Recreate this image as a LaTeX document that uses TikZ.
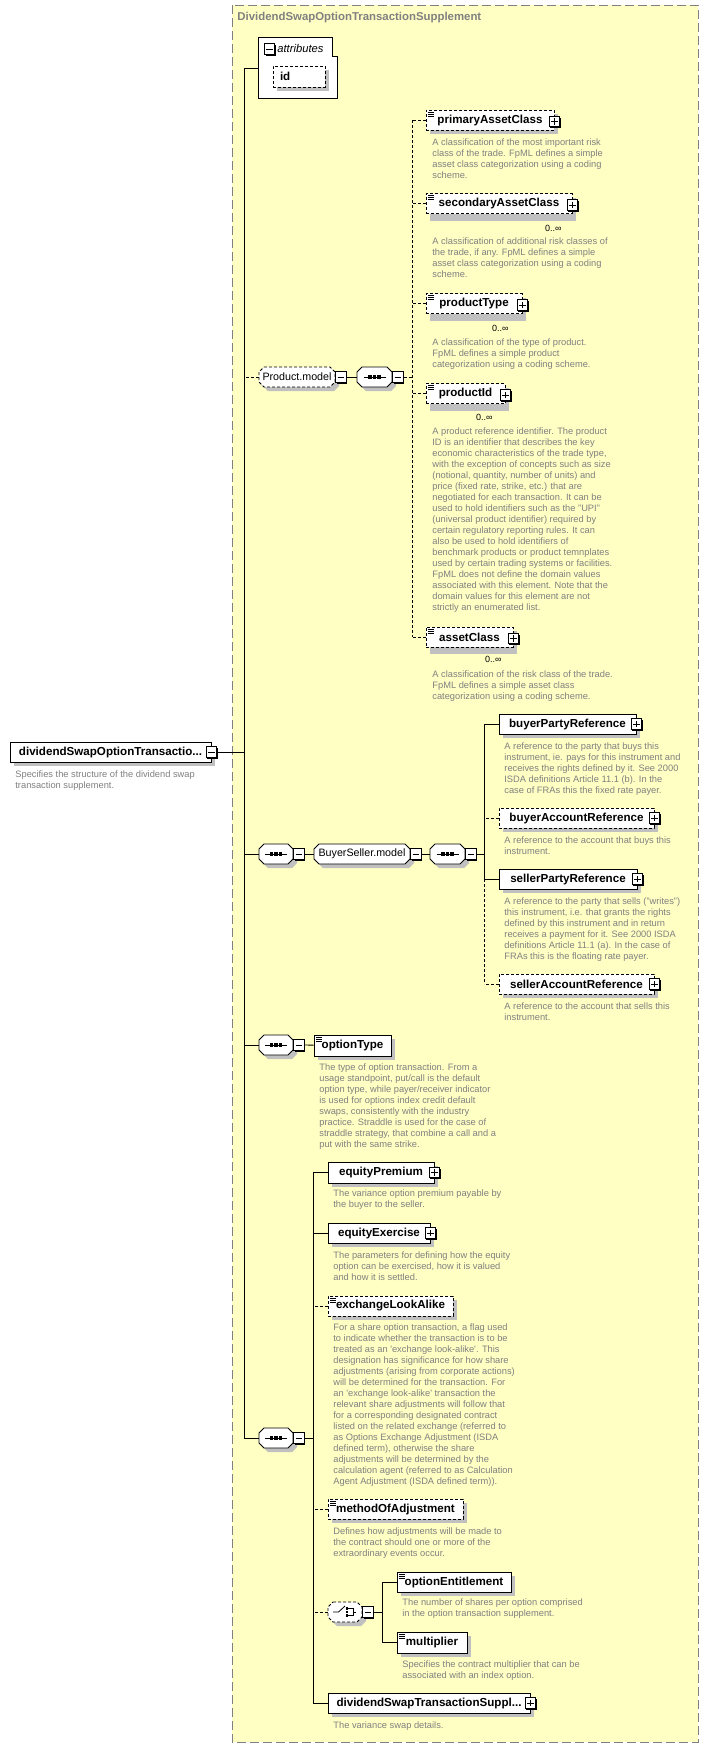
\documentclass[tikz,border=0pt]{standalone}
\usepackage{fontspec}
\setmainfont{Liberation Sans}
\usetikzlibrary{positioning}
\usetikzlibrary{shadows}

\definecolor{groupfill}{RGB}{255,255,196}
\definecolor{framegray}{RGB}{128,128,128}
\definecolor{descgray}{RGB}{128,128,128}
\definecolor{shadowgray}{RGB}{192,192,192}

% octagon (model group / compositor) with its shadow: [style]{cx}{cy}{width}
\newcommand{\octa}[4][]{%
  \fill[shadowgray, shift={({#2+4},{#3+4})}]
    ({-#4/2+5},-10) -- ({#4/2-5},-10) -- ({#4/2},-5) -- ({#4/2},5) -- ({#4/2-5},10)
    -- ({-#4/2+5},10) -- ({-#4/2},5) -- ({-#4/2},-5) -- cycle;
  \draw[fill=white, shift={(#2,#3)}, #1]
    ({-#4/2+5},-10) -- ({#4/2-5},-10) -- ({#4/2},-5) -- ({#4/2},5) -- ({#4/2-5},10)
    -- ({-#4/2+5},10) -- ({-#4/2},5) -- ({-#4/2},-5) -- cycle;}

\tikzset{
  optline/.style={dash pattern=on 3pt off 2pt},
  elem/.style={draw, fill=white, line width=0.8pt, inner sep=0pt, minimum height=20pt,
    font=\bfseries\fontsize{11.6}{13}\selectfont,
    drop shadow={shadow xshift=4pt, shadow yshift=-4pt, fill=shadowgray, opacity=1}},
  optelem/.style={elem, optline},
  multi/.style={drop shadow={shadow xshift=4pt, shadow yshift=-7pt, fill=shadowgray, opacity=1}},
  docicon/.style={path picture={
    \foreach \dy in {2,4,6}
      \draw[line width=0.7pt, solid] ([shift={(2pt,-\dy pt)}]path picture bounding box.north west) -- ++(6,0);}},
  model/.style={inner sep=0pt, minimum height=20pt, font=\fontsize{10.7}{12}\selectfont},
  seqicon/.style={path picture={
    \begin{scope}[shift={(path picture bounding box.center)}]
      \draw[line width=1pt] (-11,0) -- (11,0);
      \foreach \dx in {-4.5,0,4.5} \fill (\dx-1.6,-1.6) rectangle (\dx+1.6,1.6);
    \end{scope}}},
  seq/.style={model, minimum width=34pt, seqicon},
  choiceicon/.style={path picture={
    \begin{scope}[shift={(path picture bounding box.center)}]
      \draw (-12,0) -- (-6.5,0) -- (0,-6);
      \foreach \dy in {-3.7,0,3.7} \fill (0.8,\dy-1.3) rectangle (3.4,\dy+1.3);
      \draw (3.4,-3.7) -- (8,-3.7) -- (8,3.7) -- (3.4,3.7);
      \draw (8,0) -- (11,0);
    \end{scope}}},
  xbox/.style={draw, fill=white, line width=0.8pt, minimum size=10.5pt, inner sep=0pt,
    drop shadow={shadow xshift=1.3pt, shadow yshift=-1.3pt, fill=black, opacity=1}},
  minusbox/.style={xbox, path picture={
    \draw ([xshift=2pt]path picture bounding box.west) -- ([xshift=-2pt]path picture bounding box.east);}},
  plusbox/.style={xbox, path picture={
    \draw ([xshift=2pt]path picture bounding box.west) -- ([xshift=-2pt]path picture bounding box.east);
    \draw ([yshift=-2pt]path picture bounding box.north) -- ([yshift=2pt]path picture bounding box.south);}},
  desc/.style={anchor=north west, inner sep=0pt, align=left, text=descgray,
    font=\fontsize{9.3}{11}\selectfont},
  mult/.style={inner sep=0pt, font=\fontsize{9}{10}\selectfont},
  title/.style={anchor=west, inner sep=0pt, text=framegray, font=\bfseries\fontsize{11.4}{13}\selectfont}
}

\begin{document}
\begin{tikzpicture}[x=1pt, y=-1pt, line width=0.8pt]
\useasboundingbox (0,0) rectangle (709,1748);

% group frame
\draw[framegray, fill=groupfill, line width=1pt, dash pattern=on 9pt off 4pt] (232,5) rectangle (698,1742);
\node[title] (grp) at (237,18) {DividendSwapOptionTransactionSupplement};

% root element
\node[elem, minimum width=201pt] (root) at (110.5,752) {dividendSwapOptionTransactio...};
\node[minusbox] (rootx) at (root.east) {};
\node[desc] (root-d) at (15,770.5) {Specifies the structure of the dividend swap\\transaction supplement.};

% trunk
\coordinate (t1) at (244,68);
\coordinate (t2) at (244,1438);
\draw (t1) -- (t2);
\draw (rootx.east) -- (rootx.east -| t1);

% attributes
\node[minimum width=78pt, minimum height=60pt, inner sep=0pt] (attr) at (298,68) {};
\draw[fill=white] (attr.north west) -- ([xshift=-5pt]attr.north east) -- ++(0,19) -- ++(5,0)
  -- (attr.south east) -- (attr.south west) -- cycle;
\node[minusbox] (attrx) at (269.5,49) {};
\node[anchor=west, inner sep=0pt, font=\itshape\fontsize{11.2}{13}\selectfont] (attr-t) at (277,48) {attributes};
\node[optelem, minimum width=52pt, minimum height=21pt, text width=38pt, align=left] (id) at (299,76.5) {id};
\draw (attr.west) -- (attr.west -| t1);

% Product.model
\octa[optline]{297}{377}{76}
\node[model, minimum width=76pt] (pm) at (297,377) {Product.model};
\node[minusbox] (pmx) at ([xshift=5.5pt]pm.east) {};
\octa{374.5}{377}{35}
\node[seq, minimum width=35pt] (pseq) at (374.5,377) {};
\node[minusbox] (pseqx) at ([xshift=5.5pt]pseq.east) {};
\coordinate (pbus) at (412,120);
\draw[optline] (pm.west) -- (pm.west -| t1);
\draw (pmx) -- (pseq);
\draw[optline] (pseqx.east) -- (pseqx.east -| pbus);

\node[optelem, docicon, minimum width=128pt] (pac) at (490,120) {primaryAssetClass};
\node[plusbox] (pacx) at ([yshift=-1.5pt]pac.east) {};
\node[desc] (pac-d) at (432,138.5) {A classification of the most important risk\\class of the trade. FpML defines a simple\\asset class categorization using a coding\\scheme.};

\node[optelem, multi, docicon, minimum width=146pt] (sac) at (499,203.5) {secondaryAssetClass};
\node[plusbox] (sacx) at ([yshift=-1.5pt]sac.east) {};
\node[mult] (sac-m) at ([shift={(-19pt,-14pt)}]sac.south east) {0..∞};
\node[desc] (sac-d) at (432,237.5) {A classification of additional risk classes of\\the trade, if any. FpML defines a simple\\asset class categorization using a coding\\scheme.};

\node[optelem, multi, docicon, minimum width=96pt] (pt) at (474,303.5) {productType};
\node[plusbox] (ptx) at ([yshift=-1.5pt]pt.east) {};
\node[mult] (pt-m) at ([shift={(-22pt,-14pt)}]pt.south east) {0..∞};
\node[desc] (pt-d) at (432,338.5) {A classification of the type of product.\\FpML defines a simple product\\categorization using a coding scheme.};

\node[optelem, multi, docicon, minimum width=79pt] (pid) at (465.5,393.5) {productId};
\node[plusbox] (pidx) at ([yshift=-1.5pt]pid.east) {};
\node[mult] (pid-m) at ([shift={(-21pt,-13pt)}]pid.south east) {0..∞};
\node[desc] (pid-d) at (432,427.5) {A product reference identifier. The product\\ID is an identifier that describes the key\\economic characteristics of the trade type,\\with the exception of concepts such as size\\(notional, quantity, number of units) and\\price (fixed rate, strike, etc.) that are\\negotiated for each transaction. It can be\\used to hold identifiers such as the "UPI"\\(universal product identifier) required by\\certain regulatory reporting rules. It can\\also be used to hold identifiers of\\benchmark products or product temnplates\\used by certain trading systems or facilities.\\FpML does not define the domain values\\associated with this element. Note that the\\domain values for this element are not\\strictly an enumerated list.};

\node[optelem, multi, docicon, minimum width=87pt] (ac) at (469.5,637) {assetClass};
\node[plusbox] (acx) at ([yshift=-1.5pt]ac.east) {};
\node[mult] (ac-m) at ([shift={(-20pt,-12pt)}]ac.south east) {0..∞};
\node[desc] (ac-d) at (432,670.5) {A classification of the risk class of the trade.\\FpML defines a simple asset class\\categorization using a coding scheme.};

\draw[optline] (pac.west -| pbus) -- (ac.west -| pbus);
\foreach \n in {pac,sac,pt,pid,ac}
  \draw[optline] (\n.west) -- (\n.west -| pbus);

% BuyerSeller.model
\octa{276}{854}{34}
\node[seq] (bseq1) at (276,854) {};
\node[minusbox] (bseq1x) at ([xshift=5.5pt]bseq1.east) {};
\octa{362}{854}{96}
\node[model, minimum width=96pt] (bsm) at (362,854) {BuyerSeller.model};
\node[minusbox] (bsmx) at ([xshift=5.5pt]bsm.east) {};
\octa{447.5}{854}{35}
\node[seq, minimum width=35pt] (bseq2) at (447.5,854) {};
\node[minusbox] (bseq2x) at ([xshift=5.5pt]bseq2.east) {};
\coordinate (bbus) at (484,724);
\draw (bseq1.west) -- (bseq1.west -| t1);
\draw (bseq1x) -- (bsm);
\draw (bsmx) -- (bseq2);
\draw (bseq2x.east) -- (bseq2x.east -| bbus);

\node[elem, minimum width=137pt] (bpr) at (567.5,724) {buyerPartyReference};
\node[plusbox] (bprx) at (bpr.east) {};
\node[desc] (bpr-d) at (504,742.5) {A reference to the party that buys this\\instrument, ie. pays for this instrument and\\receives the rights defined by it. See 2000\\ISDA definitions Article 11.1 (b). In the\\case of FRAs this the fixed rate payer.};

\node[optelem, minimum width=155pt] (bar) at (576.5,818) {buyerAccountReference};
\node[plusbox] (barx) at (bar.east) {};
\node[desc] (bar-d) at (504,836.5) {A reference to the account that buys this\\instrument.};

\node[elem, minimum width=138pt] (spr) at (568,879) {sellerPartyReference};
\node[plusbox] (sprx) at (spr.east) {};
\node[desc] (spr-d) at (504,897.5) {A reference to the party that sells ("writes")\\this instrument, i.e. that grants the rights\\defined by this instrument and in return\\receives a payment for it. See 2000 ISDA\\definitions Article 11.1 (a). In the case of\\FRAs this is the floating rate payer.};

\node[optelem, minimum width=155pt] (sar) at (576.5,984) {sellerAccountReference};
\node[plusbox] (sarx) at (sar.east) {};
\node[desc] (sar-d) at (504,1002.5) {A reference to the account that sells this\\instrument.};

\draw (bpr.west -| bbus) -- (spr.west -| bbus);
\draw[optline] (spr.west -| bbus) -- (sar.west -| bbus);
\draw (bpr.west) -- (bpr.west -| bbus);
\draw[optline] (bar.west) -- (bar.west -| bbus);
\draw (spr.west) -- (spr.west -| bbus);
\draw[optline] (sar.west) -- (sar.west -| bbus);

% optionType
\octa{276}{1045}{34}
\node[seq] (oseq) at (276,1045) {};
\node[minusbox] (oseqx) at ([xshift=5.5pt]oseq.east) {};
\node[elem, docicon, minimum width=77pt, minimum height=21pt] (ot) at (352.5,1045.5) {optionType};
\node[desc] (ot-d) at (319,1063.5) {The type of option transaction. From a\\usage standpoint, put/call is the default\\option type, while payer/receiver indicator\\is used for options index credit default\\swaps, consistently with the industry\\practice. Straddle is used for the case of\\straddle strategy, that combine a call and a\\put with the same strike.};
\draw (oseq.west) -- (oseq.west -| t1);
\draw (oseqx) -- (ot);

% option sequence
\octa{276}{1438}{34}
\node[seq] (lseq) at (276,1438) {};
\node[minusbox] (lseqx) at ([xshift=5.5pt]lseq.east) {};
\coordinate (lbus) at (313,1172.5);
\draw (lseq.west) -- (lseq.west -| t1);
\draw (lseqx.east) -- (lseqx.east -| lbus);

\node[elem, minimum width=106pt, minimum height=21pt] (ep) at (381,1172.5) {equityPremium};
\node[plusbox] (epx) at (ep.east) {};
\node[desc] (ep-d) at (333,1189.5) {The variance option premium payable by\\the buyer to the seller.};

\node[elem, minimum width=102pt] (ee) at (379,1233) {equityExercise};
\node[plusbox] (eex) at (ee.east) {};
\node[desc] (ee-d) at (333,1251.5) {The parameters for defining how the equity\\option can be exercised, how it is valued\\and how it is settled.};

\node[optelem, docicon, minimum width=125pt] (ela) at (390.5,1306) {exchangeLookAlike};
\node[desc] (ela-d) at (333,1323.5) {For a share option transaction, a flag used\\to indicate whether the transaction is to be\\treated as an \textquotesingle exchange look-alike\textquotesingle. This\\designation has significance for how share\\adjustments (arising from corporate actions)\\will be determined for the transaction. For\\an \textquotesingle exchange look-alike\textquotesingle\ transaction the\\relevant share adjustments will follow that\\for a corresponding designated contract\\listed on the related exchange (referred to\\as Options Exchange Adjustment (ISDA\\defined term), otherwise the share\\adjustments will be determined by the\\calculation agent (referred to as Calculation\\Agent Adjustment (ISDA defined term)).};

\node[optelem, docicon, minimum width=135pt] (moa) at (395.5,1509) {methodOfAdjustment};
\node[desc] (moa-d) at (333,1527.5) {Defines how adjustments will be made to\\the contract should one or more of the\\extraordinary events occur.};

% choice
\octa[optline]{345}{1612}{34}
\node[model, minimum width=34pt, choiceicon] (ch) at (345,1612) {};
\node[minusbox] (chx) at ([xshift=5.5pt]ch.east) {};
\coordinate (cbus) at (382,1582);
\draw[optline] (ch.west) -- (ch.west -| lbus);
\draw (chx.east) -- (chx.east -| cbus);

\node[elem, docicon, minimum width=114pt] (oe) at (454,1582) {optionEntitlement};
\node[desc] (oe-d) at (402,1598.5) {The number of shares per option comprised\\in the option transaction supplement.};

\node[elem, docicon, minimum width=70pt, minimum height=21pt] (mul) at (432,1642.5) {multiplier};
\node[desc] (mul-d) at (402,1660.5) {Specifies the contract multiplier that can be\\associated with an index option.};

\draw (oe.west -| cbus) -- (mul.west -| cbus);
\draw (oe.west) -- (oe.west -| cbus);
\draw (mul.west) -- (mul.west -| cbus);

\node[elem, minimum width=202pt] (dsts) at (429,1703) {dividendSwapTransactionSuppl...};
\node[plusbox] (dstsx) at (dsts.east) {};
\node[desc] (dsts-d) at (333,1721.5) {The variance swap details.};

\draw (ep.west -| lbus) -- (dsts.west -| lbus);
\foreach \n in {ep,ee,dsts}
  \draw (\n.west) -- (\n.west -| lbus);
\foreach \n in {ela,moa}
  \draw[optline] (\n.west) -- (\n.west -| lbus);
\end{tikzpicture}
\end{document}
